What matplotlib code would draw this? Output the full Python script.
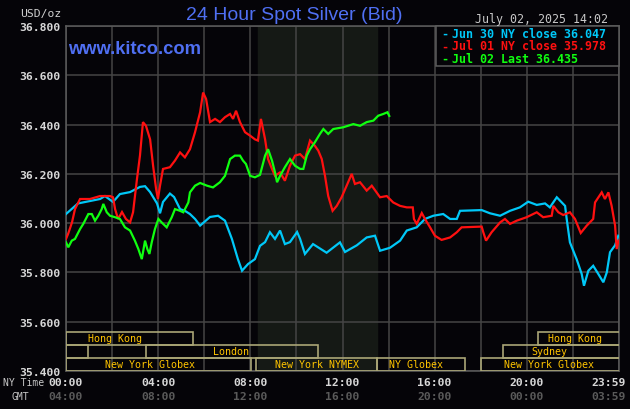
import numpy as np
import matplotlib
matplotlib.use("Agg")
import matplotlib.pyplot as plt
import matplotlib.transforms as mtransforms
from matplotlib.patches import Rectangle

# hours (NY time) and prices
jun30_hours = [0.00, 0.52, 1.48, 1.69, 2.04, 2.34, 2.78, 3.21, 3.43, 3.65, 3.95, 4.08, 4.21,
               4.51, 4.69, 4.95, 5.16, 5.38, 5.60, 5.82, 6.25, 6.60, 6.90, 7.20, 7.46, 7.64,
               7.90, 8.20, 8.42, 8.64, 8.85, 9.07, 9.29, 9.50, 9.72, 10.03, 10.16, 10.37,
               10.72, 11.31, 11.89, 12.11, 12.62, 13.05, 13.41, 13.63, 14.06, 14.50, 14.79,
               15.22, 15.58, 15.94, 16.37, 16.67, 16.96, 17.10, 18.04, 18.40, 18.84, 19.27,
               19.70, 20.06, 20.43, 20.79, 21.00, 21.30, 21.66, 21.73, 21.87, 22.16, 22.38,
               22.48, 22.67, 22.88, 23.10, 23.32, 23.47, 23.61, 23.83, 23.97]
jun30_price = [36.037, 36.080, 36.098, 36.110, 36.086, 36.118, 36.126, 36.147, 36.150, 36.126,
               36.080, 36.040, 36.086, 36.120, 36.106, 36.057, 36.050, 36.037, 36.017, 35.990,
               36.025, 36.030, 36.010, 35.936, 35.854, 35.807, 35.834, 35.854, 35.908, 35.923,
               35.963, 35.936, 35.970, 35.915, 35.923, 35.964, 35.936, 35.875, 35.915, 35.880,
               35.922, 35.883, 35.910, 35.942, 35.949, 35.888, 35.900, 35.929, 35.970, 35.983,
               36.017, 36.030, 36.037, 36.017, 36.017, 36.050, 36.053, 36.040, 36.030, 36.050,
               36.064, 36.087, 36.074, 36.080, 36.064, 36.105, 36.070, 36.017, 35.922, 35.854,
               35.794, 35.746, 35.807, 35.827, 35.794, 35.760, 35.800, 35.882, 35.910, 35.949]

jul01_hours = [0.00, 0.09, 0.26, 0.39, 0.61, 1.04, 1.48, 1.91, 2.04, 2.13, 2.26, 2.43, 2.60,
               2.78, 2.91, 3.08, 3.21, 3.34, 3.47, 3.65, 3.78, 3.91, 3.99, 4.08, 4.21, 4.51,
               4.73, 4.95, 5.16, 5.38, 5.60, 5.82, 5.95, 6.08, 6.25, 6.47, 6.68, 6.90, 7.12,
               7.25, 7.38, 7.55, 7.77, 7.99, 8.20, 8.33, 8.46, 8.64, 8.77, 8.94, 9.07, 9.29,
               9.50, 9.72, 9.94, 10.16, 10.37, 10.59, 10.80, 10.95, 11.10, 11.24, 11.38,
               11.57, 11.75, 11.96, 12.18, 12.40, 12.54, 12.76, 13.05, 13.27, 13.63, 13.92,
               14.20, 14.50, 14.79, 15.05, 15.10, 15.22, 15.44, 15.58, 15.80, 16.01, 16.30,
               16.67, 16.96, 17.17, 18.04, 18.11, 18.23, 18.47, 18.84, 19.05, 19.27, 19.56,
               19.99, 20.43, 20.71, 21.08, 21.15, 21.37, 21.58, 21.87, 22.09, 22.34, 22.60,
               22.88, 22.96, 23.25, 23.39, 23.54, 23.68, 23.83, 23.90, 23.98]
jul01_price = [35.936, 35.956, 36.003, 36.057, 36.098, 36.098, 36.110, 36.110, 36.105, 36.057,
               36.017, 36.045, 36.017, 36.003, 36.044, 36.179, 36.274, 36.410, 36.395, 36.340,
               36.233, 36.139, 36.098, 36.152, 36.220, 36.227, 36.254, 36.287, 36.267, 36.300,
               36.369, 36.450, 36.530, 36.504, 36.410, 36.423, 36.410, 36.430, 36.443, 36.423,
               36.456, 36.410, 36.369, 36.355, 36.340, 36.335, 36.423, 36.340, 36.260, 36.220,
               36.192, 36.206, 36.172, 36.233, 36.274, 36.280, 36.260, 36.335, 36.314, 36.294,
               36.260, 36.192, 36.110, 36.050, 36.070, 36.105, 36.152, 36.200, 36.159, 36.166,
               36.132, 36.152, 36.105, 36.110, 36.084, 36.070, 36.064, 36.064, 36.017, 35.997,
               36.041, 36.017, 35.983, 35.949, 35.932, 35.942, 35.963, 35.983, 35.986, 35.963,
               35.929, 35.963, 36.003, 36.017, 35.997, 36.010, 36.024, 36.044, 36.024, 36.030,
               36.070, 36.044, 36.033, 36.044, 36.017, 35.960, 35.990, 36.017, 36.084, 36.125,
               36.098, 36.125, 36.070, 35.990, 35.895, 35.929]

jul02_hours = [0.00, 0.10, 0.25, 0.39, 0.61, 0.75, 0.97, 1.12, 1.26, 1.40, 1.55, 1.62, 1.77,
               1.91, 2.13, 2.34, 2.56, 2.78, 2.99, 3.14, 3.29, 3.43, 3.53, 3.62, 3.72, 3.86,
               4.01, 4.15, 4.37, 4.59, 4.73, 4.95, 5.09, 5.31, 5.38, 5.60, 5.82, 6.12, 6.38,
               6.68, 6.90, 7.12, 7.33, 7.55, 7.68, 7.81, 7.99, 8.20, 8.42, 8.64, 8.77, 8.94,
               9.07, 9.16, 9.29, 9.50, 9.72, 9.94, 10.16, 10.30, 10.45, 10.59, 10.80, 11.02,
               11.17, 11.38, 11.60, 12.03, 12.47, 12.76, 13.05, 13.34, 13.55, 13.77, 13.95,
               14.03]
jul02_price = [35.922, 35.902, 35.929, 35.936, 35.976, 35.997, 36.037, 36.037, 36.010, 36.030,
               36.057, 36.078, 36.044, 36.030, 36.024, 36.017, 35.983, 35.970, 35.929, 35.895,
               35.854, 35.929, 35.895, 35.875, 35.922, 35.976, 36.017, 36.003, 35.983, 36.024,
               36.057, 36.050, 36.044, 36.084, 36.125, 36.152, 36.163, 36.152, 36.145, 36.166,
               36.192, 36.260, 36.274, 36.274, 36.254, 36.240, 36.192, 36.186, 36.196, 36.274,
               36.300, 36.254, 36.206, 36.166, 36.192, 36.227, 36.260, 36.233, 36.220, 36.220,
               36.274, 36.300, 36.328, 36.362, 36.382, 36.362, 36.382, 36.389, 36.402, 36.395,
               36.410, 36.416, 36.436, 36.443, 36.450, 36.435]

legend_labels = ["Jun 30 NY close 36.047", "Jul 01 NY close 35.978", "Jul 02 Last 36.435"]
series_colors = ["#00c8f8", "#ff1010", "#10ff10"]

ny_ticks = ["00:00", "04:00", "08:00", "12:00", "16:00", "20:00", "23:59"]
gmt_ticks = ["04:00", "08:00", "12:00", "16:00", "20:00", "00:00", "03:59"]
tick_hours = [0, 4, 8, 12, 16, 20, 23.55]

# trading sessions: name, start, end, row (0 = bottom), label hour
sess_names = ["New York Globex", "New York NYMEX", "NY Globex", "New York Globex",
              "", "London", "Sydney", "Hong Kong", "Hong Kong"]
sess_start = [0, 8.25, 13.5, 18.0, 0, 3.47, 18.97, 0, 20.5]
sess_end = [8.03, 13.5, 17.3, 24.5, 0.95, 10.95, 24.5, 5.5, 24.5]
sess_row = [0, 0, 0, 0, 1, 1, 1, 2, 2]
sess_label_at = [3.65, 10.9, 15.2, 20.96, 0, 7.16, 21.0, 2.13, 22.07]

BG = "#050408"
GRID = "#454545"
W, H = 630, 410

plt.rcParams["font.family"] = "DejaVu Sans Mono"

fig = plt.figure(figsize=(W / 100, H / 100), dpi=100, facecolor=BG)
ax = fig.add_axes([66 / W, 38 / H, 553 / W, 345 / H], facecolor=BG)

ax.axvspan(8.33, 13.5, color="#151915", zorder=0)

ax.set_xlim(0, 24)
ax.set_ylim(35.4, 36.8)
ax.set_xticks(np.arange(0, 25, 2))
ax.set_xticklabels([])
yt = np.arange(35.4, 36.81, 0.2)
ax.set_yticks(yt)
ax.set_yticklabels(["%.3f" % v for v in yt], fontsize=8.2, fontweight="bold", color="#d8d8d8")
ax.tick_params(length=0, pad=3.6)
ax.grid(True, color=GRID, lw=1.1, zorder=1)
ax.set_axisbelow(True)
for s in ax.spines.values():
    s.set_color("#5c5c5c")
    s.set_linewidth(1.1)

for hrs, pr, c in zip([jun30_hours, jul01_hours, jul02_hours],
                      [jun30_price, jul01_price, jul02_price], series_colors):
    ax.plot(hrs, pr, color=c, lw=1.6, zorder=3, solid_joinstyle="miter")

# session boxes
trans = mtransforms.blended_transform_factory(ax.transData, ax.transAxes)
row_h = 13 / 345
for name, s0, s1, r, lx in zip(sess_names, sess_start, sess_end, sess_row, sess_label_at):
    ax.add_patch(Rectangle((s0, r * row_h), s1 - s0, row_h, transform=trans, fill=False,
                           edgecolor="#aaa676", lw=1.2, zorder=4, clip_on=True))
    if name:
        ax.text(lx, (r + 0.5) * row_h, name, transform=trans, ha="center", va="center",
                fontsize=7.2, color="#ffc400", zorder=5)

# legend box
lx0 = (436 - 66) / 553
ly0 = (372 - 67) / 345
ax.add_patch(Rectangle((lx0, ly0), 1.0 - lx0, 1.0 - ly0, transform=ax.transAxes,
                       facecolor=BG, edgecolor="#5c5c5c", lw=1.1, zorder=6, clip_on=False))
for i, (lab, c) in enumerate(zip(legend_labels, series_colors)):
    yy = 1 - (34 + i * 12.7) / H
    fig.text(441 / W, yy, "-", color=c, fontsize=8.4, fontweight="bold", va="center", zorder=7)
    fig.text(452 / W, yy, lab, color=c, fontsize=8.4, fontweight="bold", va="center", zorder=7)

# titles
fig.text(294 / W, 1 - 16 / H, "24 Hour Spot Silver (Bid)", family="Liberation Sans",
         fontsize=14, color="#4f6ff2", ha="center", va="center")
fig.text(68 / W, 1 - 49 / H, "www.kitco.com", family="Liberation Sans", fontsize=13.2,
         fontweight="bold", color="#4f6ff2", ha="left", va="center")
fig.text(608 / W, 1 - 20 / H, "July 02, 2025 14:02", fontsize=8.4, color="#c8c8c8",
         ha="right", va="center")
fig.text(61 / W, 1 - 13.5 / H, "USD/oz", fontsize=8.2, color="#d0d0d0", ha="right", va="center")

# time axis labels
fig.text(44 / W, 1 - 383 / H, "NY Time", fontsize=7.0, color="#c8c8c8", ha="right", va="center")
fig.text(29 / W, 1 - 397 / H, "GMT", fontsize=7.0, color="#c8c8c8", ha="right", va="center")
tx = mtransforms.blended_transform_factory(ax.transData, fig.transFigure)
for h, a, b in zip(tick_hours, ny_ticks, gmt_ticks):
    ax.text(h, 1 - 383 / H, a, transform=tx, ha="center", va="center", fontsize=8.2,
            fontweight="bold", color="#d8d8d8", clip_on=False)
    ax.text(h, 1 - 397 / H, b, transform=tx, ha="center", va="center", fontsize=8.2,
            fontweight="bold", color="#5a5a5a", clip_on=False)

fig.savefig("out.png", dpi=100, facecolor=BG)
